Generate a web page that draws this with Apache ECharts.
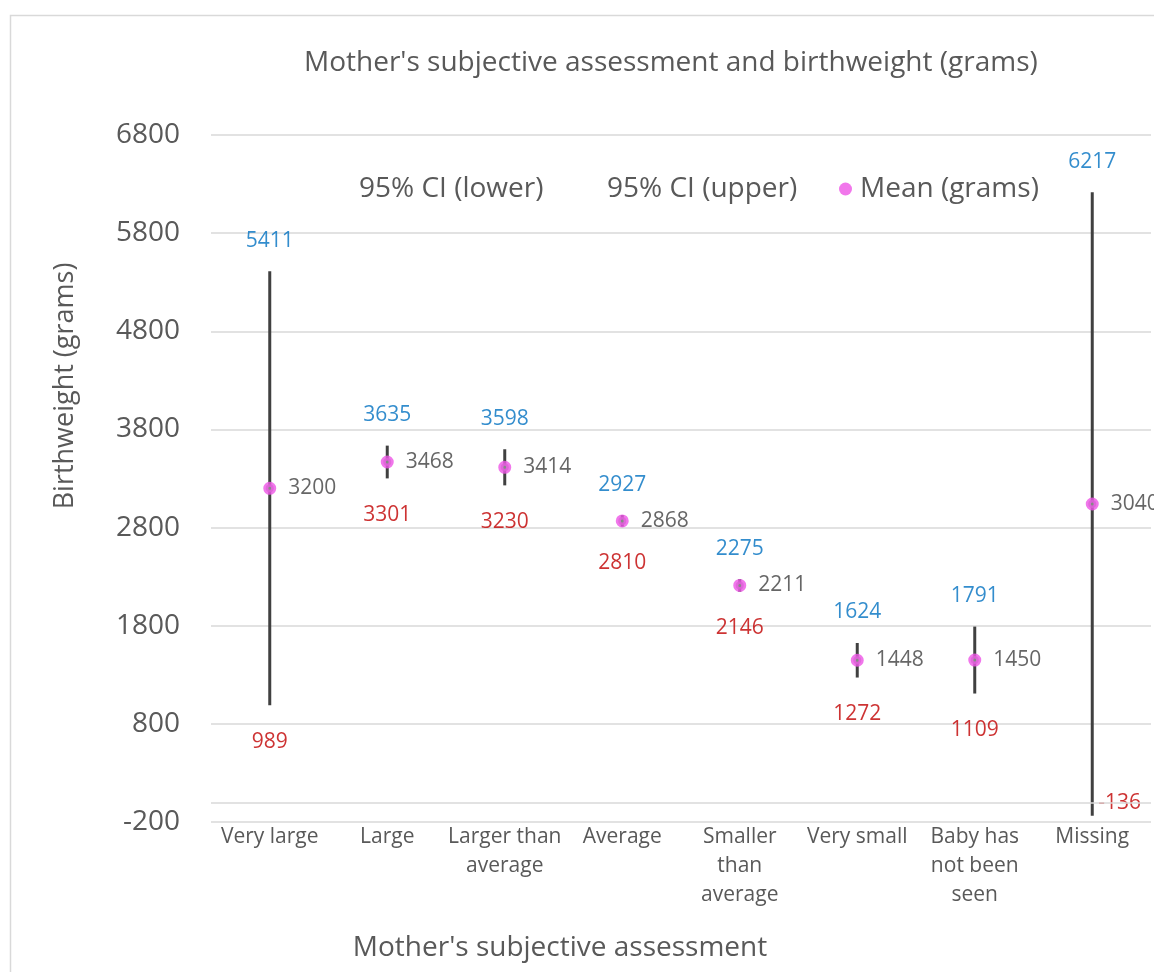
<!DOCTYPE html>
<html><head><meta charset="utf-8">
<script src="https://cdn.jsdelivr.net/npm/echarts@6/dist/echarts.min.js"></script>
<style>html,body{margin:0;padding:0;background:#fff}#c{width:1154px;height:972px}</style>
</head><body><div id="c"></div>
<script>
const categories = ['Very large','Large','Larger than\naverage','Average','Smaller\nthan\naverage','Very small','Baby has\nnot been\nseen','Missing'];
const ciLower = [989,3301,3230,2810,2146,1272,1109,-136];
const ciUpper = [5411,3635,3598,2927,2275,1624,1791,6217];
const meanGrams = [3200,3468,3414,2868,2211,1448,1450,3040];
const yMin = -200, yMax = 6800, yStep = 1000;

const FONT = 'Open Sans';
const GREY = '#595959';
const PINK = '#EE55E6';

const chart = echarts.init(document.getElementById('c'), null, {renderer:'canvas'});
const option = {
  backgroundColor:'#fff',
  animation:false,
  textStyle:{fontFamily:FONT},
  title:{text:"Mother's subjective assessment and birthweight (grams)", left:299, top:44,
    textStyle:{fontFamily:FONT, fontSize:28, fontWeight:'normal', color:GREY}},
  legend:[
    {data:[{name:'95% CI (lower)', icon:'none'}], left:349, top:170, itemWidth:0, selectedMode:false,
      textStyle:{fontFamily:FONT, fontSize:28, color:GREY}},
    {data:[{name:'95% CI (upper)', icon:'none'}], left:597, top:170, itemWidth:0, selectedMode:false,
      textStyle:{fontFamily:FONT, fontSize:28, color:GREY}},
    {data:[{name:'Mean (grams)', itemStyle:{color:PINK, borderColor:PINK, borderWidth:0}}], left:834, top:170, itemWidth:13, itemHeight:13, selectedMode:false,
      textStyle:{fontFamily:FONT, fontSize:28, color:GREY, padding:[0,0,0,3]}}
  ],
  grid:{left:211, right:3, top:135, bottom:150, containLabel:false, outerBoundsMode:'none'},
  xAxis:{type:'category', data:categories, boundaryGap:true,
    axisLine:{show:false}, axisTick:{show:false},
    axisLabel:{interval:0, color:GREY, fontFamily:FONT, fontSize:21, lineHeight:29, margin:1}},
  yAxis:{type:'value', min:yMin, max:yMax, interval:yStep,
    axisLine:{show:false}, axisTick:{show:false},
    splitLine:{lineStyle:{color:'#D9D9D9', width:1.5}},
    axisLabel:{color:GREY, fontFamily:FONT, fontSize:28, margin:31, formatter:function(v){return String(v);}}},
  graphic:[
    {type:'rect', shape:{x:10.5, y:15.5, width:1400, height:1200}, style:{fill:null, stroke:'#D9D9D9', lineWidth:1.5}, z:-10, silent:true},
    {type:'text', x:65, y:386, rotation:Math.PI/2, style:{text:'Birthweight (grams)', font:'27px "Open Sans"', fill:GREY, textAlign:'center', textVerticalAlign:'middle'}},
    {type:'text', x:560, y:948, style:{text:"Mother's subjective assessment", font:'28px "Open Sans"', fill:GREY, textAlign:'center', textVerticalAlign:'middle'}}
  ],
  series:[
    {name:'CI bars', type:'custom', z:2,
      data:categories.map((c,i)=>[i, ciLower[i], ciUpper[i]]),
      encode:{x:0, y:[1,2]},
      renderItem:function(params, api){
        const lo = api.coord([api.value(0), api.value(1)]);
        const hi = api.coord([api.value(0), api.value(2)]);
        return {type:'line', shape:{x1:lo[0], y1:lo[1], x2:hi[0], y2:hi[1]}, style:{stroke:'#404040', lineWidth:3}};
      }},
    {name:'95% CI (lower)', type:'scatter', symbolSize:0, z:3,
      data:ciLower.map((v,i)=> i===7 ? {value:v, label:{position:'right', distance:6, offset:[0,-13]}} : v),
      label:{show:true, position:'bottom', distance:26, color:'#C00000', fontFamily:FONT, fontSize:21}},
    {name:'95% CI (upper)', type:'scatter', symbolSize:0, z:3,
      data:ciUpper,
      label:{show:true, position:'top', distance:20, color:'#0070C0', fontFamily:FONT, fontSize:21}},
    {name:'Mean (grams)', type:'scatter', symbol:'circle', symbolSize:8, z:5,
      itemStyle:{color:'#9A9A9A', borderColor:PINK, borderWidth:5},
      data:meanGrams,
      label:{show:true, position:'right', distance:12, color:'#404040', fontFamily:FONT, fontSize:21},
      markLine:{silent:true, symbol:'none', label:{show:false},
        lineStyle:{color:'#D9D9D9', width:1.5, type:'solid'},
        data:[{yAxis:0}]}}
  ]
};
chart.setOption(option);
</script></body></html>
